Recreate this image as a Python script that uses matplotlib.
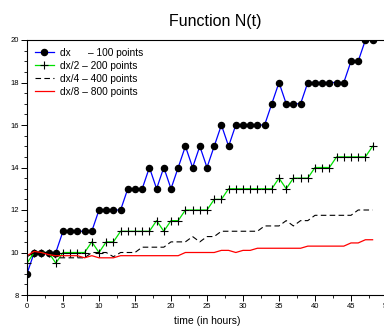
import numpy as np
import matplotlib
matplotlib.use("Agg")
import matplotlib.pyplot as plt
from matplotlib.ticker import MultipleLocator

plt.rcParams['font.family'] = ['Liberation Sans', 'DejaVu Sans']

# hourly samples of N(t) for each grid resolution
hours = np.arange(0, 49)
n_dx = [9, 10, 10, 10, 10, 11, 11, 11, 11, 11, 12, 12, 12, 12, 13, 13, 13, 14, 13, 14,
        13, 14, 15, 14, 15, 14, 15, 16, 15, 16, 16, 16, 16, 16, 17, 18, 17, 17, 17, 18,
        18, 18, 18, 18, 18, 19, 19, 20, 20]
n_dx2 = [9.5, 10, 10, 10, 9.5, 10, 10, 10, 10, 10.5, 10, 10.5, 10.5, 11, 11, 11, 11, 11,
         11.5, 11, 11.5, 11.5, 12, 12, 12, 12, 12.5, 12.5, 13, 13, 13, 13, 13, 13, 13,
         13.5, 13, 13.5, 13.5, 13.5, 14, 14, 14, 14.5, 14.5, 14.5, 14.5, 14.5, 15]
n_dx4 = [9.8, 10, 10, 10, 9.75, 9.75, 9.75, 9.75, 9.75, 10, 10, 10, 9.8, 10, 10, 10,
         10.25, 10.25, 10.25, 10.25, 10.5, 10.5, 10.5, 10.75, 10.5, 10.75, 10.75, 11, 11,
         11, 11, 11, 11, 11.25, 11.25, 11.25, 11.5, 11.25, 11.5, 11.5, 11.75, 11.75, 11.75,
         11.75, 11.75, 11.75, 12, 12, 12]
n_dx8 = [9.85, 10.05, 10, 9.9, 9.85, 9.85, 9.85, 9.85, 9.75, 9.85, 9.75, 9.75, 9.75, 9.85,
         9.85, 9.85, 9.85, 9.85, 9.85, 9.85, 9.85, 9.85, 10, 10, 10, 10, 10, 10.1, 10.1, 10,
         10.1, 10.1, 10.2, 10.2, 10.2, 10.2, 10.2, 10.2, 10.2, 10.3, 10.3, 10.3, 10.3, 10.3,
         10.3, 10.45, 10.45, 10.6, 10.6]

labels = ['dx      \u2013 100 points', 'dx/2 \u2013 200 points',
          'dx/4 \u2013 400 points', 'dx/8 \u2013 800 points']

fig = plt.figure(figsize=(3.84, 3.29), dpi=100)
ax = fig.add_axes([27 / 384, 34 / 329, 360 / 384, 255 / 329])

ax.plot(hours, n_dx, color='#0000ff', lw=0.9, marker='o', ms=4.4,
        mfc='black', mec='black', label=labels[0])
ax.plot(hours, n_dx2, color='#00e000', lw=0.9, marker='+', ms=6,
        mec='black', mew=0.8, label=labels[1])
ax.plot(hours, n_dx4, color='black', lw=0.8, ls=(0, (5, 3)), label=labels[2])
ax.plot(hours, n_dx8, color='red', lw=0.9, label=labels[3])

ax.set_xlim(0, 50)
ax.set_ylim(8, 20)
ax.xaxis.set_major_locator(MultipleLocator(5))
ax.xaxis.set_minor_locator(MultipleLocator(2.5))
ax.yaxis.set_major_locator(MultipleLocator(2))
ax.yaxis.set_minor_locator(MultipleLocator(0.5))
ax.tick_params(which='major', direction='out', length=4, width=0.7, labelsize=5.5, pad=2)
ax.tick_params(which='minor', direction='out', length=2.5, width=0.6)
for sp in ax.spines.values():
    sp.set_linewidth(0.8)

ax.set_title('Function N(t)', fontsize=11.5, pad=10, x=0.522)
ax.set_xlabel('time (in hours)', fontsize=7.5, labelpad=4)

ax.legend(loc='upper left', frameon=False, fontsize=7.3, handlelength=1.9,
          handletextpad=0.6, labelspacing=0.3, borderaxespad=0.3,
          borderpad=0.45)

fig.savefig('out.png', dpi=100)
